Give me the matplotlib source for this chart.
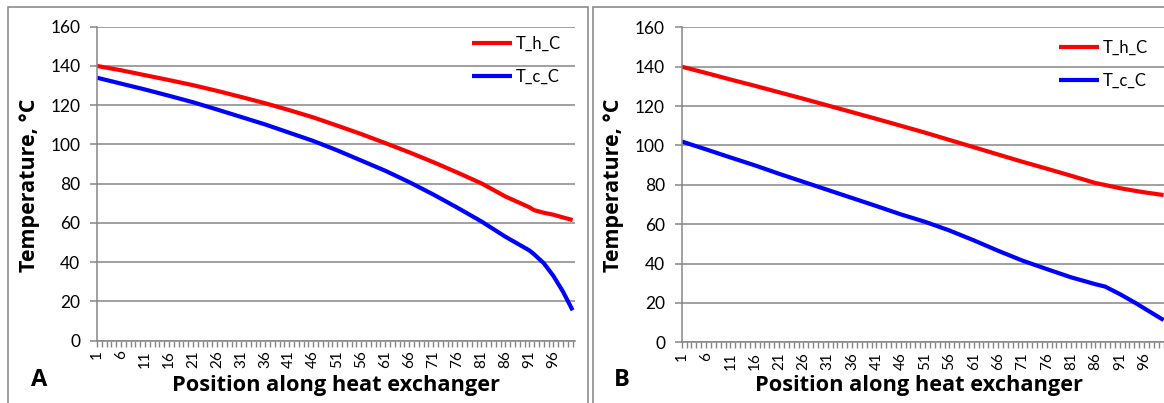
import matplotlib
matplotlib.use("Agg")
import matplotlib.pyplot as plt
from matplotlib.patches import Rectangle

plt.rcParams['font.family'] = ['Lato', 'DejaVu Sans']
LABEL_FONT = ['Open Sans', 'DejaVu Sans']

# panel A data (position along exchanger, temperature in C)
POS_A = [1, 6, 11, 16, 21, 26, 31, 36, 41, 46, 51, 56, 61, 66, 71, 76, 81, 86,
         91, 92, 94, 96, 98, 100]
HOT_A = [140, 137.8, 135.3, 132.8, 130.2, 127.3, 124.2, 121, 117.5, 113.8,
         109.6, 105.3, 100.7, 96, 91, 85.7, 80.2, 73.5, 68, 66.5, 65.2, 64.2,
         62.8, 61.5]
COLD_A = [134, 131, 128, 124.8, 121.5, 117.8, 114, 110.2, 106, 101.8, 97,
          91.8, 86.6, 80.8, 74.5, 67.8, 60.8, 53, 46, 44, 39.5, 33, 25, 15.5]

# panel B data
POS_B = [1, 6, 11, 16, 21, 26, 31, 36, 41, 46, 51, 56, 61, 66, 71, 76, 81, 86,
         88, 91, 94, 96, 98, 100]
HOT_B = [140, 136.8, 133.5, 130.3, 127, 123.7, 120.3, 116.9, 113.5, 110,
         106.5, 102.8, 99.1, 95.4, 91.7, 88.2, 84.6, 80.9, 79.9, 78.3, 77,
         76.2, 75.5, 74.8]
COLD_B = [102, 98, 93.9, 89.9, 85.6, 81.5, 77.4, 73.3, 69.2, 65, 61.2, 56.8,
          51.8, 46.5, 41.5, 37.2, 33, 29.5, 28.3, 24.5, 20.3, 17.3, 14.3, 11.3]

N_POS = 100
Y_TICKS = [0, 20, 40, 60, 80, 100, 120, 140, 160]
SERIES = ["T_h_C", "T_c_C"]
GRAY = '#868686'

W, H = 1164, 403
fig = plt.figure(figsize=(W / 100, H / 100), dpi=100)


def px(x0, y_top, x1, y_bot):
    return [x0 / W, 1 - y_bot / H, (x1 - x0) / W, (y_bot - y_top) / H]


def panel(rect, pos, hot, cold, letter, letter_x, ylab_x, leg_anchor):
    ax = fig.add_axes(rect)
    ax.plot(pos, hot, color='#ff0000', lw=3, label=SERIES[0],
            solid_capstyle='butt')
    ax.plot(pos, cold, color='#0000ff', lw=3, label=SERIES[1],
            solid_capstyle='butt')
    ax.set_xlim(1, 100.5)
    ax.set_ylim(0, 160)
    ax.set_yticks(Y_TICKS)
    ax.set_yticklabels([str(v) for v in Y_TICKS], fontsize=12.5)
    cats = list(range(1, N_POS + 1))
    ax.set_xticks(cats)
    ax.set_xticklabels([str(c) if (c - 1) % 5 == 0 else '' for c in cats],
                       rotation=90, fontsize=11)
    ax.tick_params(axis='x', length=4, width=1, color=GRAY, pad=3)
    ax.tick_params(axis='y', length=5, width=1.1, color=GRAY, pad=7)
    ax.grid(axis='y', color=GRAY, lw=1.1)
    ax.set_axisbelow(True)
    for s in ('top', 'right'):
        ax.spines[s].set_visible(False)
    for s in ('left', 'bottom'):
        ax.spines[s].set_color(GRAY)
        ax.spines[s].set_linewidth(1.1)
    ax.legend(loc='upper left', bbox_to_anchor=leg_anchor,
              bbox_transform=fig.transFigure, frameon=False,
              fontsize=12, handlelength=2.4, handletextpad=0.2,
              labelspacing=1.0, borderaxespad=0, borderpad=0)
    fig.text(ylab_x / W, 1 - 185 / H, "Temperature, \u00b0C", rotation=90,
             fontsize=15.5, fontweight='bold', ha='center', va='center',
             family=LABEL_FONT)
    fig.text(letter_x / W, 1 - 380 / H, letter, fontsize=17,
             fontweight='bold', ha='center', va='center', family=LABEL_FONT)
    return ax


panel(px(97, 26.7, 575, 340.7), POS_A, HOT_A, COLD_A, "A", 39, 30,
      (472 / W, 1 - 36 / H))
panel(px(681.7, 27.3, 1166, 342.3), POS_B, HOT_B, COLD_B, "B", 622, 613,
      (1059 / W, 1 - 40 / H))

for cx in (336, 919):
    fig.text(cx / W, 1 - 386 / H, "Position along heat exchanger",
             fontsize=15.7, fontweight='bold', ha='center', va='center',
             family=LABEL_FONT)

# panel frames
fig.patches.append(Rectangle((8 / W, -0.05), 580 / W, 1.05 - 7 / H,
                             transform=fig.transFigure, fill=False,
                             edgecolor='#8c8c8c', lw=1.2))
fig.patches.append(Rectangle((593 / W, -0.05), 600 / W, 1.05 - 7 / H,
                             transform=fig.transFigure, fill=False,
                             edgecolor='#8c8c8c', lw=1.2))

fig.savefig("out.png", dpi=100)
